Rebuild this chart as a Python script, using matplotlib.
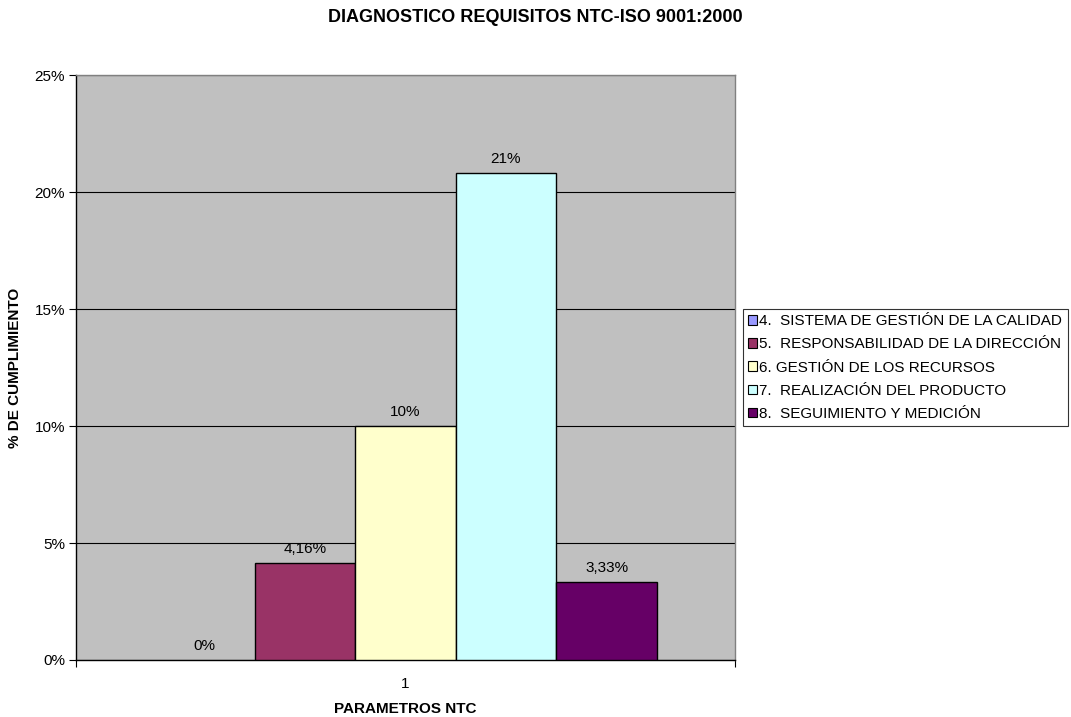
import matplotlib
matplotlib.use("Agg")
import matplotlib.pyplot as plt
from matplotlib.ticker import PercentFormatter

plt.rcParams["font.family"] = ["Liberation Sans", "DejaVu Sans"]

# --- Data ---
series_names = [
    "4.  SISTEMA DE GESTIÓN DE LA CALIDAD",
    "5.  RESPONSABILIDAD DE LA DIRECCIÓN",
    "6. GESTIÓN DE LOS RECURSOS",
    "7.  REALIZACIÓN DEL PRODUCTO",
    "8.  SEGUIMIENTO Y MEDICIÓN",
]
values = [0.0, 4.16, 10.0, 20.83, 3.33]
value_labels = ["0%", "4,16%", "10%", "21%", "3,33%"]
category = "1"

# --- Style ---
COLORS = ["#9999FF", "#993366", "#FFFFCC", "#CCFFFF", "#660066"]
PLOT_BG = "#C0C0C0"
BAR_W = 0.1527
FS = 11

fig = plt.figure(figsize=(10.71, 7.17), dpi=100)
ax = fig.add_axes([0.071, 0.0795, 0.615, 0.8155])
ax.set_facecolor(PLOT_BG)

n = len(values)
for i, (name, v, lab, c) in enumerate(zip(series_names, values, value_labels, COLORS)):
    x = 1 + (i - (n - 1) / 2) * BAR_W
    ax.bar(x, v, width=BAR_W, color=c, edgecolor="black",
           linewidth=1.0 if v > 0 else 0, label=name, zorder=3)
    ax.text(x, v + 0.3, lab, ha="center", va="bottom", fontsize=FS, zorder=4)

ax.set_xlim(0.5, 1.5)
ax.set_ylim(0, 25)
ax.set_yticks(range(0, 26, 5))
ax.yaxis.set_major_formatter(PercentFormatter(decimals=0))
ax.grid(axis="y", color="black", linewidth=0.8, zorder=1)
ax.set_axisbelow(True)

# category axis: tick marks at group edges, label in the middle
ax.set_xticks([0.5, 1.5])
ax.set_xticklabels([])
ax.set_xticks([1], [category], minor=True)
ax.tick_params(axis="x", which="minor", length=0, labelsize=FS, pad=12)
ax.tick_params(axis="x", which="major", length=5, width=0.8)
ax.tick_params(axis="y", length=5, width=0.8, labelsize=FS, pad=3)

for side in ["left", "bottom"]:
    ax.spines[side].set_color("black")
    ax.spines[side].set_linewidth(1.0)
for side in ["top", "right"]:
    ax.spines[side].set_color("#808080")
    ax.spines[side].set_linewidth(1.0)

ax.set_xlabel("PARAMETROS NTC", fontsize=FS, fontweight="bold", labelpad=8)
ax.set_ylabel("% DE CUMPLIMIENTO", fontsize=FS, fontweight="bold", labelpad=9)
fig.text(0.5, 0.975, "DIAGNOSTICO REQUISITOS NTC-ISO 9001:2000",
         ha="center", va="center", fontsize=13, fontweight="bold")

leg = ax.legend(loc="center left", bbox_to_anchor=(1.012, 0.5), fontsize=FS,
                frameon=True, fancybox=False, edgecolor="black",
                handlelength=0.6, handleheight=0.6, handletextpad=0.15,
                borderpad=0.35, labelspacing=0.6, borderaxespad=0)
leg.get_frame().set_linewidth(0.8)
for h in leg.legend_handles:
    h.set_edgecolor("black")
    h.set_linewidth(0.8)

fig.savefig("out.png", dpi=100, facecolor="white")
